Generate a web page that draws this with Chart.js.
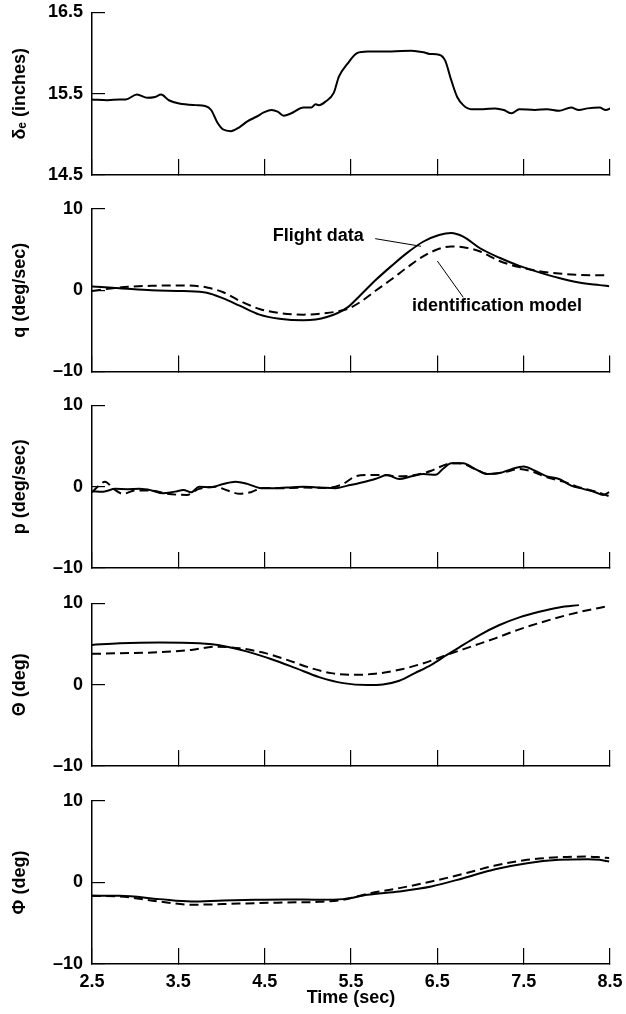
<!DOCTYPE html>
<html><head><meta charset="utf-8">
<script src="https://cdn.jsdelivr.net/npm/chart.js@4.4.1/dist/chart.umd.min.js"></script>
<style>
html,body{margin:0;padding:0;background:#fff;}
#wrap{position:relative;width:626px;height:1014px;overflow:hidden;background:#fff;}
#wrap canvas{position:absolute;left:0;}
</style></head><body><div id="wrap"></div>
<script>
// ---------------- data ----------------
const xTicks = [2.5, 3.5, 4.5, 5.5, 6.5, 7.5, 8.5];
const deTicks = [14.5, 15.5, 16.5];
const degTicks = [-10, 0, 10];

// elevator deflection (inches)
const deTime = [2.50,2.68,2.82,2.89,3.02,3.14,3.23,3.30,3.39,3.51,3.70,3.81,3.88,3.95,4.02,4.11,4.21,4.30,4.41,4.49,4.58,4.65,4.72,4.81,4.95,5.04,5.09,5.13,5.20,5.30,5.36,5.46,5.57,5.69,5.97,6.20,6.34,6.41,6.52,6.59,6.66,6.73,6.80,6.89,7.03,7.17,7.27,7.36,7.45,7.63,7.77,7.91,8.05,8.14,8.24,8.38,8.45,8.51];
const deValue = [15.43,15.42,15.43,15.43,15.49,15.45,15.46,15.49,15.42,15.38,15.36,15.35,15.30,15.15,15.06,15.04,15.09,15.16,15.22,15.27,15.30,15.28,15.23,15.26,15.33,15.33,15.37,15.36,15.40,15.51,15.71,15.87,16.00,16.02,16.02,16.03,16.01,15.99,15.98,15.91,15.67,15.46,15.36,15.31,15.31,15.32,15.30,15.26,15.31,15.30,15.31,15.29,15.33,15.30,15.32,15.33,15.30,15.32];

// pitch rate q (deg/sec)
const qTime = [2.50,2.82,3.19,3.56,3.83,4.02,4.21,4.44,4.67,4.95,5.22,5.46,5.60,5.78,5.97,6.15,6.34,6.52,6.66,6.80,6.99,7.22,7.45,7.68,7.91,8.14,8.38,8.49];
const qFlight = [0.47,0.26,0.0,-0.1,-0.3,-1.0,-1.9,-3.0,-3.5,-3.7,-3.3,-2.1,-0.7,1.2,3.0,4.6,6.0,6.8,7.05,6.6,5.2,4.0,3.0,2.2,1.5,0.95,0.63,0.5];
const qModel = [-0.1,0.34,0.55,0.6,0.35,-0.25,-1.3,-2.3,-2.8,-3.0,-2.8,-2.3,-1.5,-0.1,1.35,2.8,4.2,5.1,5.4,5.3,4.8,3.6,2.85,2.35,2.05,1.9,1.85,1.85];

// roll rate p (deg/sec)
const pTimeFlight = [2.50,2.63,2.77,2.91,3.05,3.19,3.32,3.46,3.56,3.65,3.74,3.88,4.02,4.16,4.30,4.44,4.58,4.76,4.95,5.13,5.32,5.46,5.60,5.78,5.92,6.06,6.20,6.34,6.48,6.57,6.66,6.80,6.94,7.08,7.22,7.36,7.50,7.63,7.77,7.91,8.05,8.19,8.33,8.42,8.49];
const pFlight = [-0.55,-0.6,-0.26,-0.3,-0.26,-0.45,-0.8,-0.6,-0.4,-0.67,0.0,-0.05,0.35,0.63,0.35,-0.14,-0.18,-0.1,0.0,-0.08,-0.18,0.14,0.47,0.95,1.44,0.95,1.28,1.56,1.48,2.25,2.9,2.9,2.17,1.56,1.68,2.17,2.5,1.97,1.28,0.95,0.14,-0.26,-0.67,-1.0,-0.67];
const pTimeModel = [2.50,2.58,2.65,2.75,2.86,3.00,3.19,3.37,3.60,3.74,3.93,4.07,4.21,4.34,4.48,4.67,4.95,5.22,5.41,5.55,5.69,5.87,6.06,6.24,6.43,6.61,6.75,6.94,7.08,7.26,7.45,7.63,7.77,7.96,8.14,8.33,8.49];
const pModel = [-0.67,0.14,0.63,-0.26,-0.87,-0.47,-0.47,-0.87,-1.0,-0.26,0.0,-0.47,-0.87,-0.67,-0.14,-0.18,-0.1,-0.14,0.35,1.28,1.44,1.44,1.28,1.44,1.97,2.78,2.9,2.17,1.56,1.76,2.17,1.76,1.16,0.63,-0.06,-0.59,-1.16];

// pitch attitude Theta (deg)
const thTimeFlight = [2.50,2.82,3.28,3.74,4.02,4.30,4.58,4.86,5.13,5.41,5.69,5.87,6.06,6.24,6.43,6.61,6.80,6.99,7.22,7.45,7.68,7.91,8.14];
const thFlight = [4.9,5.1,5.2,5.1,4.78,4.08,3.14,2.04,0.94,0.2,-0.04,0.04,0.49,1.43,2.45,3.67,4.9,6.12,7.35,8.29,8.98,9.51,9.8];
const thTimeModel = [2.50,2.82,3.28,3.65,3.93,4.21,4.48,4.76,5.04,5.27,5.50,5.78,6.06,6.34,6.61,6.89,7.17,7.45,7.73,8.00,8.24,8.44];
const thModel = [3.8,3.88,4.0,4.29,4.69,4.49,3.96,3.06,2.04,1.43,1.22,1.35,1.84,2.65,3.67,4.69,5.71,6.82,7.76,8.57,9.18,9.59];

// bank angle Phi (deg)
const phiTime = [2.50,2.82,3.28,3.65,4.02,4.39,4.76,5.13,5.41,5.69,6.06,6.43,6.80,7.17,7.54,7.91,8.24,8.38,8.49];
const phiFlight = [-1.63,-1.63,-2.04,-2.33,-2.2,-2.12,-2.08,-2.12,-2.04,-1.51,-1.1,-0.49,0.53,1.63,2.37,2.78,2.86,2.78,2.57];
const phiModel = [-1.63,-1.71,-2.33,-2.73,-2.65,-2.53,-2.45,-2.37,-2.12,-1.39,-0.69,0.12,1.06,2.08,2.78,3.1,3.18,3.1,3.0];

// annotation in the q panel (data units)
const annoText = ['Flight data', 'identification model'];
const annoX = [5.12, 7.19];
const annoY = [6.63, -2.0];
const leaderFromX = [5.78, 6.80];
const leaderFromY = [6.35, -0.87];
const leaderToX = [6.31, 6.50];
const leaderToY = [5.41, 3.60];

// ---------------- rendering ----------------
const FONT = "'Liberation Sans', Arial, Helvetica, 'DejaVu Sans', sans-serif";
const FSIZE = 18;
const pts = (t, v) => t.map((x, i) => ({x: x, y: v[i]}));
const fmtY = v => v < 0 ? '\u2013' + Math.abs(v) : String(v);

const annoPlugin = {
  id: 'anno',
  afterDatasetsDraw(chart) {
    const ctx = chart.ctx, xs = chart.scales.x, ys = chart.scales.y;
    ctx.save();
    ctx.fillStyle = '#000';
    ctx.font = 'bold ' + FSIZE + 'px ' + FONT;
    ctx.textAlign = 'center';
    ctx.textBaseline = 'middle';
    annoText.forEach((t, i) => ctx.fillText(t, xs.getPixelForValue(annoX[i]), ys.getPixelForValue(annoY[i])));
    ctx.strokeStyle = '#000';
    ctx.lineWidth = 1;
    leaderFromX.forEach((v, i) => {
      ctx.beginPath();
      ctx.moveTo(xs.getPixelForValue(v), ys.getPixelForValue(leaderFromY[i]));
      ctx.lineTo(xs.getPixelForValue(leaderToX[i]), ys.getPixelForValue(leaderToY[i]));
      ctx.stroke();
    });
    ctx.restore();
  }
};

const panels = [
  {canvasTop: 0,   height: 181, plotTop: 12.5, plotBottom: 175, title: 'δ\u2091 (inches)', ticks: deTicks,
   series: [pts(deTime, deValue)]},
  {canvasTop: 195, height: 183, plotTop: 209, plotBottom: 371.5, title: 'q (deg/sec)', ticks: degTicks,
   series: [pts(qTime, qFlight), pts(qTime, qModel)], anno: true},
  {canvasTop: 391, height: 183, plotTop: 405.5, plotBottom: 568, title: 'p (deg/sec)', ticks: degTicks,
   series: [pts(pTimeFlight, pFlight), pts(pTimeModel, pModel)]},
  {canvasTop: 589, height: 183, plotTop: 603.5, plotBottom: 766, title: 'Θ (deg)', ticks: degTicks,
   series: [pts(thTimeFlight, thFlight), pts(thTimeModel, thModel)]},
  {canvasTop: 787, height: 227, plotTop: 801, plotBottom: 964, title: 'Φ (deg)', ticks: degTicks,
   series: [pts(phiTime, phiFlight), pts(phiTime, phiModel)], last: true}
];

const wrap = document.getElementById('wrap');
panels.forEach(p => {
  const cv = document.createElement('canvas');
  cv.width = 626; cv.height = p.height;
  cv.style.top = p.canvasTop + 'px';
  cv.style.width = '626px'; cv.style.height = p.height + 'px';
  wrap.appendChild(cv);
  const padTop = p.plotTop - p.canvasTop;
  const xH = (p.canvasTop + p.height) - p.plotBottom;
  const font = {family: FONT, size: FSIZE, weight: 'bold'};
  const datasets = p.series.map((d, i) => ({
    data: d, borderColor: '#000', borderWidth: 2, pointRadius: 0, fill: false,
    cubicInterpolationMode: 'monotone', borderDash: i === 1 ? [9, 5] : [], borderCapStyle: 'butt'
  }));
  new Chart(cv, {
    type: 'line',
    data: {datasets: datasets},
    options: {
      responsive: false, animation: false, events: [], devicePixelRatio: 1,
      layout: {padding: {top: padTop, right: 16, left: 0, bottom: 0}},
      plugins: {legend: {display: false}, tooltip: {enabled: false}},
      scales: {
        x: {
          type: 'linear', min: 2.5, max: 8.5,
          afterBuildTicks: s => { s.ticks = xTicks.map(v => ({value: v})); },
          afterFit: s => { s.height = xH; s.paddingLeft = 0; s.paddingRight = 0; s.paddingTop = 0; s.paddingBottom = 0; },
          grid: {drawOnChartArea: false, drawTicks: true, tickLength: -16, color: '#000', lineWidth: 1.2},
          border: {display: true, color: '#000', width: 1.5},
          ticks: {display: !!p.last, padding: 23, font: font, color: '#000', maxRotation: 0, autoSkip: false,
                  callback: v => Number(v).toFixed(1)},
          title: {display: !!p.last, text: 'Time (sec)', color: '#000', font: font, padding: {top: 0, bottom: 5}}
        },
        y: {
          type: 'linear', min: p.ticks[0], max: p.ticks[p.ticks.length - 1],
          afterBuildTicks: s => { s.ticks = p.ticks.map(v => ({value: v})); },
          afterFit: s => { s.width = 92; s.paddingLeft = 0; s.paddingRight = 0; s.paddingTop = 0; s.paddingBottom = 0; },
          grid: {drawOnChartArea: false, drawTicks: true, tickLength: -13, color: '#000', lineWidth: 1.2},
          border: {display: true, color: '#000', width: 1.5},
          ticks: {padding: 22, font: font, color: '#000', callback: v => fmtY(v)},
          title: {display: true, text: p.title, color: '#000', font: font, padding: {top: 9, bottom: 0}}
        }
      }
    },
    plugins: p.anno ? [annoPlugin] : []
  });
});
</script>
</body></html>
